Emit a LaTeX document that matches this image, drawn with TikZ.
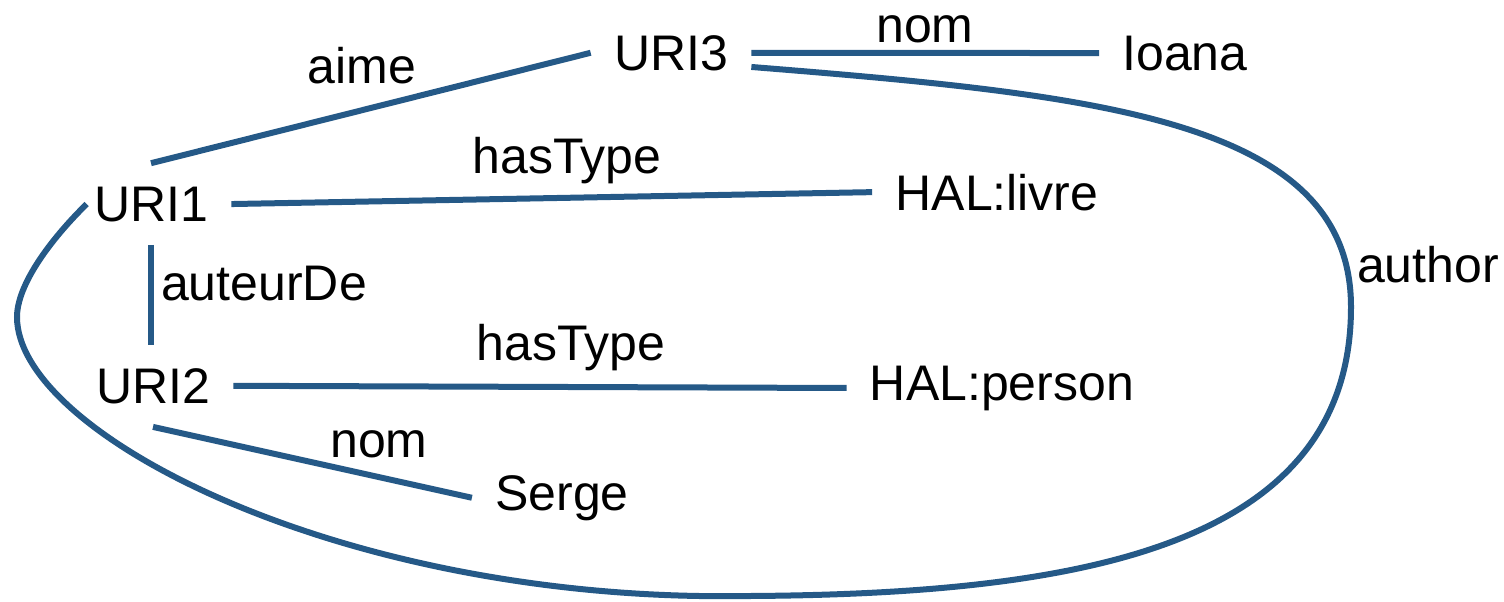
\documentclass[tikz,border=0pt]{standalone}
\usepackage{fontspec}
\setmainfont{Liberation Sans}
\usepackage{tikz}
\definecolor{edgeblue}{RGB}{37,89,135}

\begin{document}
\begin{tikzpicture}[x=0.5pt,y=-0.5pt,
 ent/.style={anchor=base,inner sep=11.5pt,font=\fontsize{25}{30}\selectfont},
 lbl/.style={anchor=base,inner sep=0pt,font=\fontsize{25}{30}\selectfont},
 link/.style={draw=edgeblue,line width=3pt}]
\useasboundingbox (0,0) rectangle (1504,601);
% resources and literals
\node[ent] (uri3) at (671,70) {URI3};
\node[ent] (ioana) at (1185,70) {Ioana};
\node[ent] (uri1) at (151,221) {URI1};
\node[ent] (livre) at (997,210) {HAL:livre};
\node[ent] (uri2) at (153,403) {URI2};
\node[ent] (person) at (1002,400) {HAL:person};
\node[ent] (serge) at (562,510) {Serge};
% property names
\node[lbl] (lnom1) at (925,42) {nom};
\node[lbl] (laime) at (362,83) {aime};
\node[lbl] (ltype1) at (567,173) {hasType};
\node[lbl] (lauteur) at (264,300) {auteurDe};
\node[lbl] (ltype2) at (571,360) {hasType};
\node[lbl] (lnom2) at (379,457) {nom};
\node[lbl] (lauthor) at (1428,282) {author};
% triples
\draw[link] (uri1.north)--(uri3.west);
\draw[link] (uri3.east)--(ioana.west);
\draw[link] (uri1.east)--(livre.west);
\draw[link] (uri1.south)--(uri1.south |- uri2.north);
\draw[link] (uri2.east)--(person.west);
\draw[link] (uri2.south)--(serge.west);
\draw[link] (uri3.-10) .. controls (1100,95) and (1351,120) .. (1351,307)
 .. controls (1351,560) and (1050,598) .. (700,596)
 .. controls (320,590) and (17,430) .. (17,317)
 .. controls (17,285) and (50,240) .. ([xshift=8pt]uri1.west);
\end{tikzpicture}
\end{document}
